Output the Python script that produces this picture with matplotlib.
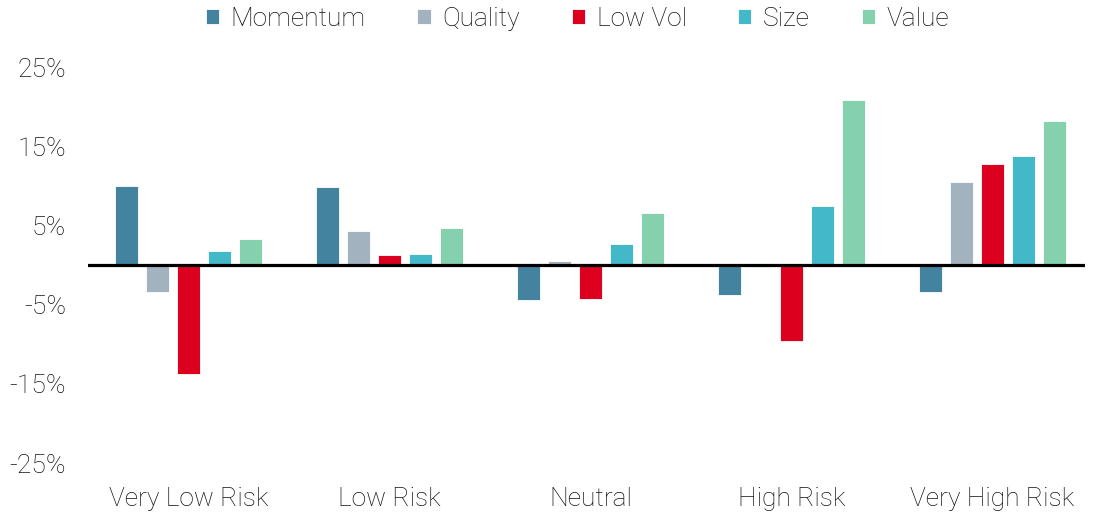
import numpy as np
import matplotlib.pyplot as plt

categories = ['Very Low Risk', 'Low Risk', 'Neutral', 'High Risk', 'Very High Risk']
series = ['Momentum', 'Quality', 'Low Vol', 'Size', 'Value']
momentum = [10.1, 9.9, -4.4, -3.7, -3.3]
quality = [-3.3, 4.3, 0.6, -0.2, 10.6]
low_vol = [-13.8, 1.3, -4.3, -9.5, 12.8]
size = [1.8, 1.4, 2.7, 7.5, 13.8]
value = [3.4, 4.8, 6.6, 20.9, 18.3]
yticks = [-25, -15, -5, 5, 15, 25]

colors = ['#44839f', '#a2b3bf', '#dc001e', '#43b8c8', '#86d1ad']
plt.rcParams['font.family'] = ['Roboto', 'DejaVu Sans']

fig = plt.figure(figsize=(11, 5.22), dpi=100)
ax = fig.add_axes([0.08, 0.113, 0.906, 0.757])

x = np.arange(len(categories))
w = 0.115
pitch = 0.154
for i, (name, vals) in enumerate(zip(series, [momentum, quality, low_vol, size, value])):
    ax.bar(x + (i - 2) * pitch, vals, width=w, color=colors[i],
           edgecolor='white', linewidth=0.6, label=name, zorder=2)

ax.axhline(0, color='black', lw=2.3, zorder=3)
ax.set_xlim(-0.5, 4.46)
ax.set_ylim(-25, 25)
ax.set_yticks(yticks)
ax.set_yticklabels([f'{t}%' for t in yticks], fontsize=19, fontweight='light')
ax.set_xticks(x)
ax.set_xticklabels(categories, fontsize=19, fontweight='light')
ax.tick_params(axis='both', length=0, colors='#111111')
ax.tick_params(axis='x', pad=17)
ax.tick_params(axis='y', pad=16)
for s in ax.spines.values():
    s.set_visible(False)

leg = fig.legend(loc='upper center', bbox_to_anchor=(0.525, 1.033), ncol=5,
                 frameon=False, handlelength=0.5, handleheight=0.5,
                 handletextpad=0.45, columnspacing=1.95,
                 prop={'size': 19, 'weight': 'light'})
for t in leg.get_texts():
    t.set_color('#111111')

fig.savefig('out.png', dpi=100)
